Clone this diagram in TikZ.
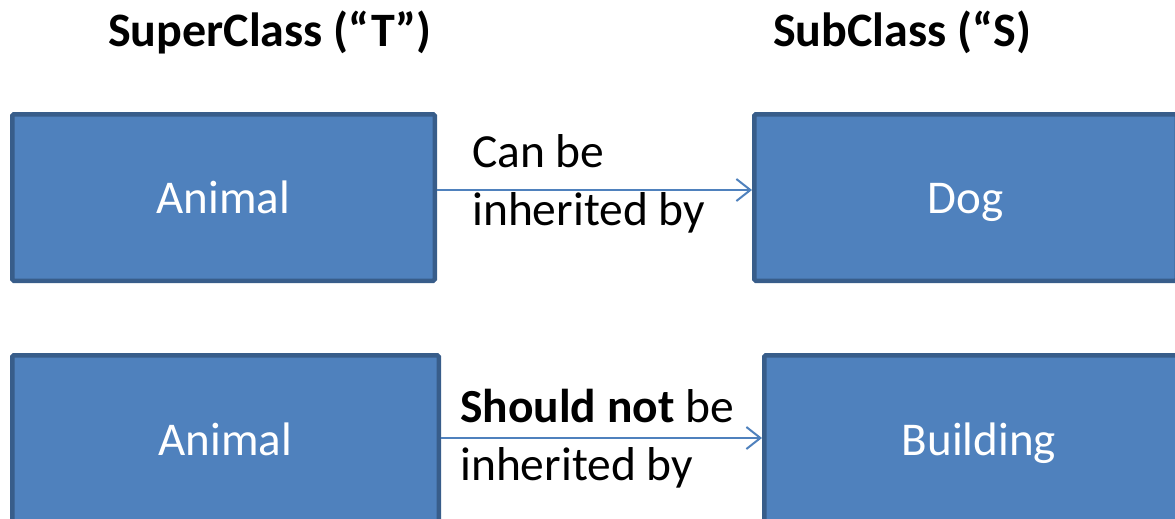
\documentclass[tikz,border=0pt]{standalone}
\usepackage{fontspec}
\setmainfont{Carlito}
\usetikzlibrary{arrows.meta,calc}
\definecolor{boxfill}{HTML}{4F81BD}
\definecolor{boxline}{HTML}{385D8A}
\begin{document}
\begin{tikzpicture}[x=1pt,y=-1pt,
  classbox/.style={draw=boxline,fill=boxfill,line width=4.5pt,rounded corners=1.5pt,
    inner sep=0pt,text=white,text height=31pt,text depth=0pt,
    font=\fontsize{47}{56}\selectfont},
  heading/.style={font=\bfseries\fontsize{48}{57}\selectfont,anchor=base west,inner sep=0pt},
  relation/.style={font=\fontsize{47.5}{58}\selectfont,align=left,anchor=base west,inner sep=0pt},
  link/.style={draw=boxfill,line width=2pt,-{Straight Barb[length=14pt,width=22pt]}}]
\useasboundingbox (0,0) rectangle (1175,519);
\clip (0,0) rectangle (1175,519);

% column headings
\node[heading] (superhead) at (108,47) {SuperClass (“T”)};
\node[heading] (subhead) at (773,47) {SubClass (“S)};

% class boxes
\node[classbox,minimum width=422.5pt,minimum height=166.5pt] (animalA) at (223.5,197.5) {Animal};
\node[classbox,minimum width=422.5pt,minimum height=166.5pt] (dog) at (965.5,197.5) {Dog};
\node[classbox,minimum width=426.5pt,minimum height=169.5pt] (animalB) at (225.5,440) {Animal};
\node[classbox,minimum width=429.5pt,minimum height=169.5pt] (building) at (979,440) {Building};

% inheritance links
\draw[link] ($(animalA.east)+(0,-7.5)$) -- ($(dog.west)+(0,-7.5)$);
\draw[link] ($(animalB.east)+(0,-2)$) -- ($(building.west)+(0,-2)$);

% link captions (anchored on the baseline of their last line)
\node[relation] (canlabel) at (472,225) {Can be\\inherited by};
\node[relation] (notlabel) at (460,480) {\textbf{Should not} be\\inherited by};
\end{tikzpicture}
\end{document}
